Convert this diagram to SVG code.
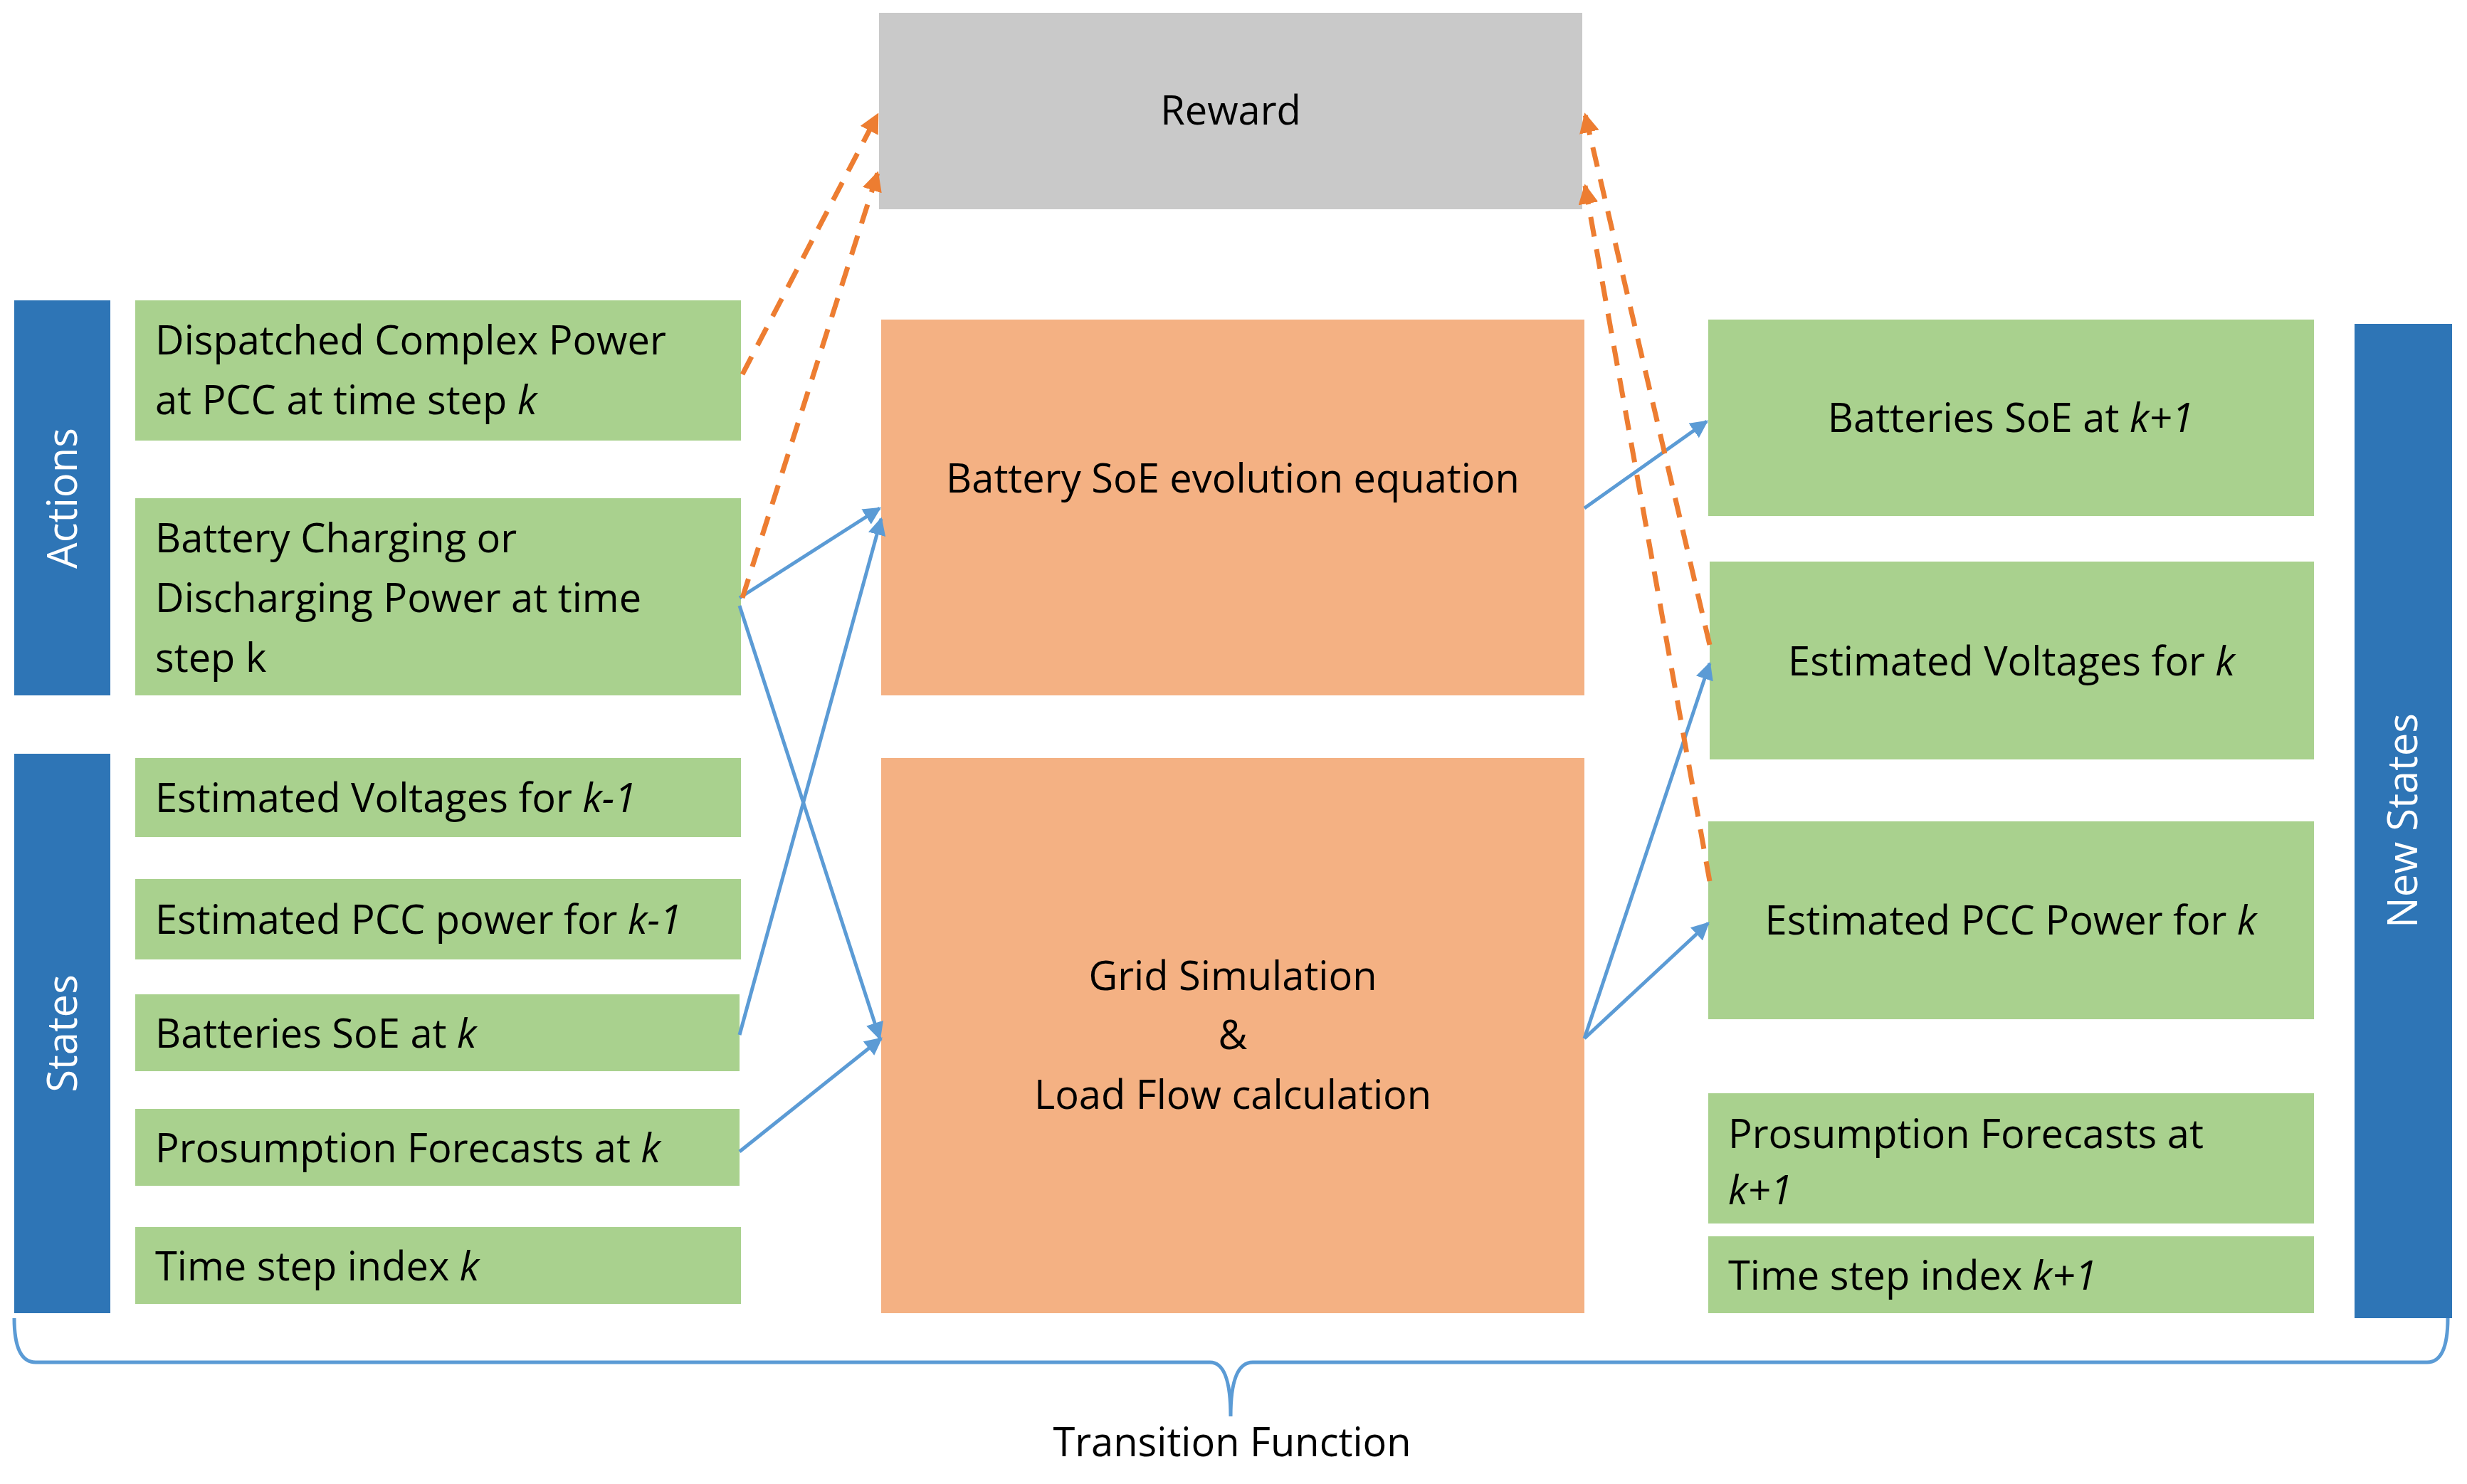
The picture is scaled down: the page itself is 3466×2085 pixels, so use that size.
<svg xmlns="http://www.w3.org/2000/svg" width="3466" height="2085" viewBox="0 0 3466 2085">
<defs>
<style>
.g{fill:#a9d18e}.b{fill:#2e75b6}.o{fill:#f4b183}.r{fill:#c9c9c9}
text{font-family:"Open Sans","Liberation Sans",sans-serif;font-size:56px;fill:#000}
.w{fill:#fff;font-size:58px}
.bl{stroke:#5b9bd5;stroke-width:5;fill:none;marker-end:url(#ab)}
.or{stroke:#ed7d31;stroke-width:7;fill:none;stroke-dasharray:28 18;marker-end:url(#ao)}
</style>
<marker id="ab" viewBox="0 0 10 10" refX="9" refY="5" markerWidth="5" markerHeight="5" orient="auto"><path d="M0,0L10,5L0,10z" fill="#5b9bd5"/></marker>
<marker id="ao" viewBox="0 0 10 10" refX="9" refY="5" markerWidth="4" markerHeight="4" orient="auto"><path d="M0,0L10,5L0,10z" fill="#ed7d31"/></marker>
</defs>
<rect width="3466" height="2085" fill="#fff"/>
<g id="actions"><rect class="b" x="20" y="422" width="135" height="555"/><text class="w" transform="translate(108,700) rotate(-90)" text-anchor="middle">Actions</text></g>
<g id="states"><rect class="b" x="20" y="1059" width="135" height="786"/><text class="w" transform="translate(108,1452) rotate(-90)" text-anchor="middle">States</text></g>
<g id="newstates"><rect class="b" x="3308" y="455" width="137" height="1397"/><text class="w" transform="translate(3396,1153) rotate(-90)" text-anchor="middle">New States</text></g>
<g id="a1"><rect class="g" x="190" y="422" width="851" height="197"/><text x="218" y="498">Dispatched Complex Power</text><text x="218" y="582">at PCC at time step <tspan font-style="italic">k</tspan></text></g>
<g id="a2"><rect class="g" x="190" y="700" width="851" height="277"/><text x="218" y="776">Battery Charging or</text><text x="218" y="860">Discharging Power at time</text><text x="218" y="944">step k</text></g>
<g id="s1"><rect class="g" x="190" y="1065" width="851" height="111"/><text x="218" y="1141">Estimated Voltages for <tspan font-style="italic">k-1</tspan></text></g>
<g id="s2"><rect class="g" x="190" y="1235" width="851" height="113"/><text x="218" y="1312">Estimated PCC power for <tspan font-style="italic">k-1</tspan></text></g>
<g id="s3"><rect class="g" x="190" y="1397" width="849" height="108"/><text x="218" y="1472">Batteries SoE at <tspan font-style="italic">k</tspan></text></g>
<g id="s4"><rect class="g" x="190" y="1558" width="849" height="108"/><text x="218" y="1633">Prosumption Forecasts at <tspan font-style="italic">k</tspan></text></g>
<g id="s5"><rect class="g" x="190" y="1724" width="851" height="108"/><text x="218" y="1799">Time step index <tspan font-style="italic">k</tspan></text></g>
<g id="reward"><rect class="r" x="1235" y="18" width="988" height="276"/><text x="1729" y="175" text-anchor="middle">Reward</text></g>
<g id="soe"><rect class="o" x="1238" y="449" width="988" height="528"/><text x="1732" y="692" text-anchor="middle">Battery SoE evolution equation</text></g>
<g id="grid"><rect class="o" x="1238" y="1065" width="988" height="780"/><text x="1732" y="1391" text-anchor="middle">Grid Simulation</text><text x="1732" y="1474" text-anchor="middle">&amp;</text><text x="1732" y="1558" text-anchor="middle">Load Flow calculation</text></g>
<g id="n1"><rect class="g" x="2400" y="449" width="851" height="276"/><text x="2825" y="607" text-anchor="middle">Batteries SoE at <tspan font-style="italic">k+1</tspan></text></g>
<g id="n2"><rect class="g" x="2402" y="789" width="849" height="278"/><text x="2826" y="949" text-anchor="middle">Estimated Voltages for <tspan font-style="italic">k</tspan></text></g>
<g id="n3"><rect class="g" x="2400" y="1154" width="851" height="278"/><text x="2825" y="1313" text-anchor="middle">Estimated PCC Power for <tspan font-style="italic">k</tspan></text></g>
<g id="n4"><rect class="g" x="2400" y="1536" width="851" height="183"/><text x="2428" y="1613">Prosumption Forecasts at</text><text x="2428" y="1692" font-style="italic">k+1</text></g>
<g id="n5"><rect class="g" x="2400" y="1737" width="851" height="108"/><text x="2428" y="1812">Time step index <tspan font-style="italic">k+1</tspan></text></g>
<g id="connectors">
<line class="bl" x1="1039" y1="840" x2="1236" y2="714"/>
<line class="bl" x1="1039" y1="851" x2="1236" y2="1459"/>
<line class="bl" x1="1039" y1="1454" x2="1238" y2="729"/>
<line class="bl" x1="1039" y1="1618" x2="1238" y2="1459"/>
<line class="bl" x1="2226" y1="714" x2="2398" y2="592"/>
<line class="bl" x1="2226" y1="1459" x2="2402" y2="932"/>
<line class="bl" x1="2226" y1="1459" x2="2400" y2="1297"/>
<line class="or" x1="1043" y1="526" x2="1233" y2="161"/>
<line class="or" x1="1043" y1="840" x2="1233" y2="243"/>
<line class="or" x1="2402" y1="906" x2="2227" y2="161"/>
<line class="or" x1="2402" y1="1238" x2="2227" y2="261"/>
<path d="M20,1852 Q20,1914 50,1914 L1700,1914 Q1729,1914 1729,1990 Q1729,1914 1760,1914 L3410,1914 Q3439,1914 3439,1852" fill="none" stroke="#5b9bd5" stroke-width="5"/>
</g>
<text x="1731" y="2046" text-anchor="middle">Transition Function</text>
</svg>
